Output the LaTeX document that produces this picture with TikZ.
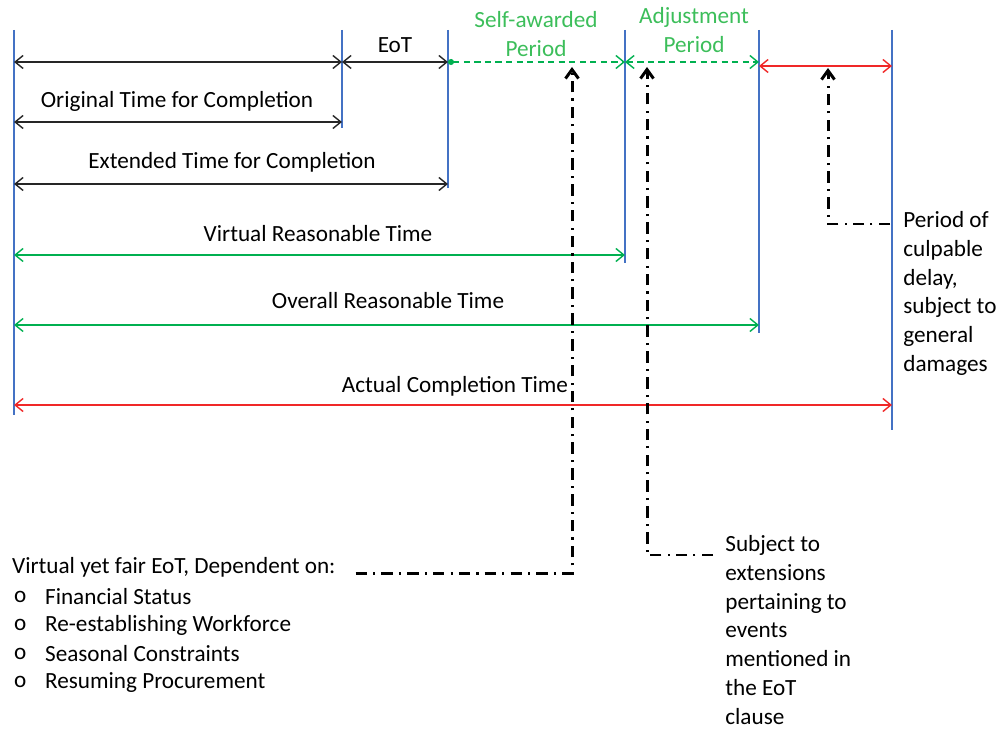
\documentclass[tikz,border=0pt]{standalone}
\usepackage{fontspec}
\setmainfont{Carlito}
\usetikzlibrary{arrows.meta, positioning, calc}

\definecolor{bleuborne}{RGB}{68,114,196}
\definecolor{vertdelai}{RGB}{0,176,80}
\definecolor{vertlabel}{RGB}{60,190,90}
\definecolor{rougedelai}{RGB}{240,40,40}

\begin{document}
\begin{tikzpicture}[
  x=0.02cm, y=-0.02cm,
  font=\fontsize{13.2}{16.4}\selectfont,
  borne/.style={
    draw=bleuborne,
    line width=0.8pt
  },
  fleche/.style={
    {Straight Barb[length=1.6mm, width=2.6mm]}-{Straight Barb[length=1.6mm, width=2.6mm]},
    line width=0.8pt,
    draw=black!85
  },
  vert/.style={fleche, draw=vertdelai},
  rouge/.style={fleche, draw=rougedelai},
  pointille/.style={
    -{Straight Barb[length=1.8mm, width=2.6mm]},
    line width=1.7pt,
    dash pattern=on 6.5pt off 3.5pt on 1.2pt off 3.5pt
  },
  etiq/.style={inner sep=1pt},
  bloc/.style={align=left, inner sep=0pt, anchor=north west}
]
  \useasboundingbox (0,0) rectangle (1000,729);

  % Bornes verticales
  \foreach \n/\x/\yb in {b0/14/415, b1/342/128, b2/448/188, b3/625/263, b4/759/333, b5/892/430} {
    \coordinate (\n) at (\x,30);
    \draw[borne] (\n) -- (\x,\yb);
  }

  % Lignes des durees
  \coordinate (r1) at (0,62);
  \coordinate (r1b) at (0,66);
  \coordinate (r2) at (0,122);
  \coordinate (r3) at (0,184);
  \coordinate (r4) at (0,255);
  \coordinate (r5) at (0,325);
  \coordinate (r6) at (0,405);

  % Ligne superieure
  \draw[fleche] (b0 |- r1) -- (b1 |- r1);
  \draw[fleche] (b1 |- r1) -- (b2 |- r1);
  \draw[vert, dash pattern=on 3.5pt off 2.5pt, {Circle[length=1.2mm]}-{Straight Barb[length=1.6mm, width=2.6mm]}] (b2 |- r1) -- (b3 |- r1);
  \draw[vert, dash pattern=on 3.5pt off 2.5pt] (b3 |- r1) -- (b4 |- r1);
  \draw[rouge] (b4 |- r1b) -- (b5 |- r1b);

  \node[etiq] (eot) at (395,45) {EoT};
  \node[etiq, text=vertlabel, align=center] (sap) at (536,34) {Self-awarded\\Period};
  \node[etiq, text=vertlabel, align=center] (adj) at (694,30) {Adjustment\\Period};

  % Durees cumulees
  \draw[fleche] (b0 |- r2) -- (b1 |- r2);
  \draw[fleche] (b0 |- r3) -- (b2 |- r3);
  \draw[vert] (b0 |- r4) -- (b3 |- r4);
  \draw[vert] (b0 |- r5) -- (b4 |- r5);
  \draw[rouge] (b0 |- r6) -- (b5 |- r6);

  \node[etiq] (otc) at (177,101) {Original Time for Completion};
  \node[etiq] (etc) at (232,162) {Extended Time for Completion};
  \node[etiq] (vrt) at (318,234) {Virtual Reasonable Time};
  \node[etiq] (ort) at (388,301) {Overall Reasonable Time};
  \node[etiq] (act) at (455,386) {Actual Completion Time};

  % Notes explicatives
  \node[bloc] (pcd) at (903,211) {Period of\\culpable\\delay,\\subject to\\general\\damages};
  \node[bloc] (ste) at (725,535) {Subject to\\extensions\\pertaining to\\events\\mentioned in\\the EoT\\clause};
  \node[etiq, anchor=west] (vfe) at (10,567) {Virtual yet fair EoT, Dependent on:};
  \foreach \i/\txt in {1/Financial Status, 2/Re-establishing Workforce, 3/Seasonal Constraints, 4/Resuming Procurement} {
    \node[etiq, anchor=west] (puce\i) at (12,568+28.6*\i) {o};
    \node[etiq, anchor=west] (item\i) at (43,568+28.6*\i) {\txt};
  }

  % Renvois
  \coordinate (cible1) at (572,67);
  \coordinate (cible2) at (647,67);
  \coordinate (cible3) at (828,68);
  \draw[pointille] ($(vfe.base east)+(18,0)$) -| (cible1);
  \draw[pointille] ($(ste.north west)+(-12,20)$) -| (cible2);
  \draw[pointille] ($(pcd.north west)+(-13,13)$) -| (cible3);
\end{tikzpicture}
\end{document}
